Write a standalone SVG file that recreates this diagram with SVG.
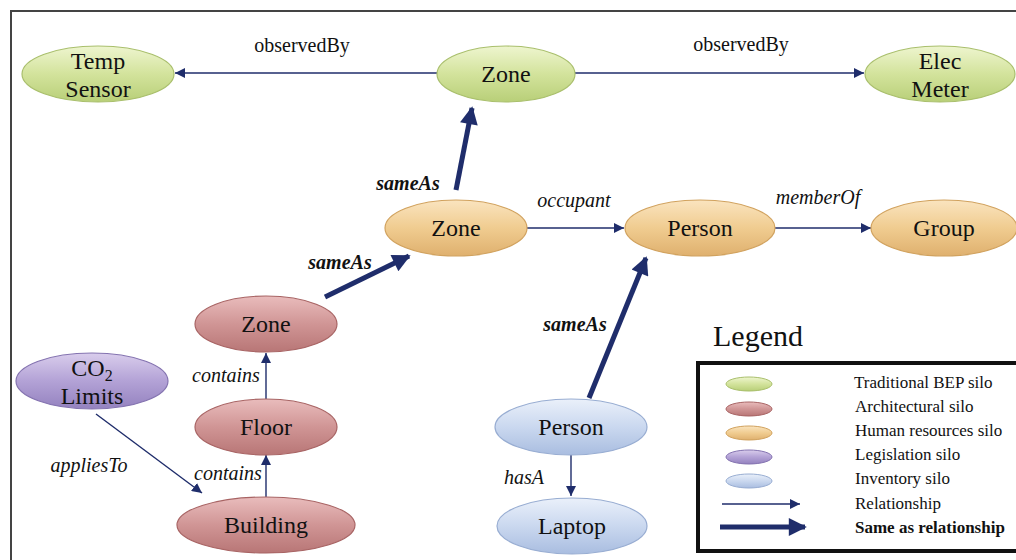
<svg xmlns="http://www.w3.org/2000/svg" width="1016" height="560" viewBox="0 0 1016 560">
<defs>
<linearGradient id="gG" x1="0" y1="0" x2="0" y2="1"><stop offset="0" stop-color="#eef5cf"/><stop offset="0.5" stop-color="#d3e39c"/><stop offset="1" stop-color="#b8cf78"/></linearGradient>
<linearGradient id="gR" x1="0" y1="0" x2="0" y2="1"><stop offset="0" stop-color="#e9bcbc"/><stop offset="0.5" stop-color="#d09595"/><stop offset="1" stop-color="#b87676"/></linearGradient>
<linearGradient id="gO" x1="0" y1="0" x2="0" y2="1"><stop offset="0" stop-color="#fae4bf"/><stop offset="0.5" stop-color="#f0cc90"/><stop offset="1" stop-color="#dfb06e"/></linearGradient>
<linearGradient id="gP" x1="0" y1="0" x2="0" y2="1"><stop offset="0" stop-color="#d9cdec"/><stop offset="0.5" stop-color="#b3a2d6"/><stop offset="1" stop-color="#9482bf"/></linearGradient>
<linearGradient id="gB" x1="0" y1="0" x2="0" y2="1"><stop offset="0" stop-color="#eaf0fa"/><stop offset="0.5" stop-color="#cad8ef"/><stop offset="1" stop-color="#a9bde0"/></linearGradient>
<marker id="ah" viewBox="0 0 10 10" refX="10" refY="5" markerWidth="10" markerHeight="10" markerUnits="userSpaceOnUse" orient="auto"><path d="M0,0 L10,5 L0,10 Z" fill="#1f2d6b"/></marker>
<marker id="ahT" viewBox="0 0 10 10" refX="9" refY="5" markerWidth="4" markerHeight="3.6" orient="auto"><path d="M0,0 L10,5 L0,10 Z" fill="#1f2d6b"/></marker>
<style>
text{font-family:'Liberation Serif',serif}
.n text{font-size:24px;fill:#111;text-anchor:middle}
.n ellipse{stroke-width:1.2}
.gr{fill:url(#gG);stroke:#a9bf6c}
.rd{fill:url(#gR);stroke:#a86464}
.or{fill:url(#gO);stroke:#d1a25e}
.pu{fill:url(#gP);stroke:#8473b0}
.bl{fill:url(#gB);stroke:#98add2}
.thin{stroke:#1f2d6b;stroke-width:1.4;fill:none;marker-end:url(#ah)}
.thick{stroke:#1f2d6b;stroke-width:5;fill:none;marker-end:url(#ahT)}
.lbl{font-size:20px;fill:#111;text-anchor:middle}
.it{font-style:italic}
.bi{font-style:italic;font-weight:bold}
.lg{font-size:17px;fill:#111}
</style>
</defs>
<rect x="0" y="0" width="1016" height="560" fill="#fff"/>
<rect x="11" y="11" width="1020" height="560" fill="none" stroke="#444" stroke-width="2"/>
<g id="connectors">
<line class="thin" x1="437" y1="73" x2="175" y2="73"/>
<line class="thin" x1="575" y1="73" x2="864" y2="73"/>
<line class="thick" x1="456" y1="190" x2="472" y2="108"/>
<line class="thick" x1="325" y1="297" x2="409" y2="256"/>
<line class="thin" x1="527" y1="228" x2="624" y2="228"/>
<line class="thin" x1="775" y1="228" x2="871" y2="228"/>
<line class="thick" x1="589" y1="398" x2="646" y2="258"/>
<line class="thin" x1="571" y1="455" x2="571" y2="496"/>
<line class="thin" x1="266" y1="399" x2="266" y2="353"/>
<line class="thin" x1="266" y1="497" x2="266" y2="455"/>
<line class="thin" x1="96" y1="414" x2="202" y2="493"/>
<text class="lbl" x="302" y="52">observedBy</text>
<text class="lbl" x="741" y="51">observedBy</text>
<text class="lbl bi" x="408" y="190">sameAs</text>
<text class="lbl bi" x="340" y="269">sameAs</text>
<text class="lbl it" x="574" y="207">occupant</text>
<text class="lbl it" x="818" y="204">memberOf</text>
<text class="lbl bi" x="575" y="331">sameAs</text>
<text class="lbl it" x="524" y="484">hasA</text>
<text class="lbl it" x="226" y="382">contains</text>
<text class="lbl it" x="228" y="480">contains</text>
<text class="lbl it" x="89" y="472">appliesTo</text>
</g>

<g id="tempSensor" class="n"><ellipse class="gr" cx="98" cy="74" rx="76" ry="28"/><text x="98" y="69">Temp</text><text x="98" y="97">Sensor</text></g>
<g id="zoneTop" class="n"><ellipse class="gr" cx="506" cy="74" rx="69" ry="28"/><text x="506" y="82">Zone</text></g>
<g id="elecMeter" class="n"><ellipse class="gr" cx="940" cy="74" rx="75" ry="28"/><text x="940" y="69">Elec</text><text x="940" y="97">Meter</text></g>
<g id="zoneHR" class="n"><ellipse class="or" cx="456" cy="228" rx="71" ry="28"/><text x="456" y="236">Zone</text></g>
<g id="personHR" class="n"><ellipse class="or" cx="700" cy="228" rx="75" ry="28"/><text x="700" y="236">Person</text></g>
<g id="group" class="n"><ellipse class="or" cx="944" cy="228" rx="73" ry="28"/><text x="944" y="236">Group</text></g>
<g id="zoneArch" class="n"><ellipse class="rd" cx="266" cy="324" rx="71" ry="28"/><text x="266" y="332">Zone</text></g>
<g id="floor" class="n"><ellipse class="rd" cx="266" cy="427" rx="71" ry="28"/><text x="266" y="435">Floor</text></g>
<g id="building" class="n"><ellipse class="rd" cx="266" cy="525" rx="89" ry="28"/><text x="266" y="533">Building</text></g>
<g id="co2Limits" class="n"><ellipse class="pu" cx="92" cy="381" rx="76" ry="28"/><text x="92" y="376">CO<tspan font-size="16" dy="5">2</tspan></text><text x="92" y="404">Limits</text></g>
<g id="personInv" class="n"><ellipse class="bl" cx="571" cy="427" rx="76" ry="28"/><text x="571" y="435">Person</text></g>
<g id="laptop" class="n"><ellipse class="bl" cx="572" cy="526" rx="75" ry="28"/><text x="572" y="534">Laptop</text></g>

<g id="legend">
<text x="713" y="346" font-size="30" fill="#111">Legend</text>
<rect x="698" y="363" width="330" height="188" fill="#fff" stroke="#111" stroke-width="4"/>
<ellipse class="gr" cx="749" cy="384" rx="23" ry="7" stroke-width="1"/>
<ellipse class="rd" cx="749" cy="409" rx="23" ry="7" stroke-width="1"/>
<ellipse class="or" cx="749" cy="433" rx="23" ry="7" stroke-width="1"/>
<ellipse class="pu" cx="749" cy="457" rx="23" ry="7" stroke-width="1"/>
<ellipse class="bl" cx="749" cy="481" rx="23" ry="7" stroke-width="1"/>
<line class="thin" x1="722" y1="504" x2="800" y2="504"/>
<line class="thick" x1="720" y1="527" x2="805" y2="527"/>
<text class="lg" x="854" y="388">Traditional BEP silo</text>
<text class="lg" x="855" y="412">Architectural silo</text>
<text class="lg" x="855" y="436">Human resources silo</text>
<text class="lg" x="855" y="460">Legislation silo</text>
<text class="lg" x="855" y="484">Inventory silo</text>
<text class="lg" x="855" y="509">Relationship</text>
<text class="lg" x="855" y="533" font-weight="bold" font-size="16">Same as relationship</text>
</g>
</svg>
